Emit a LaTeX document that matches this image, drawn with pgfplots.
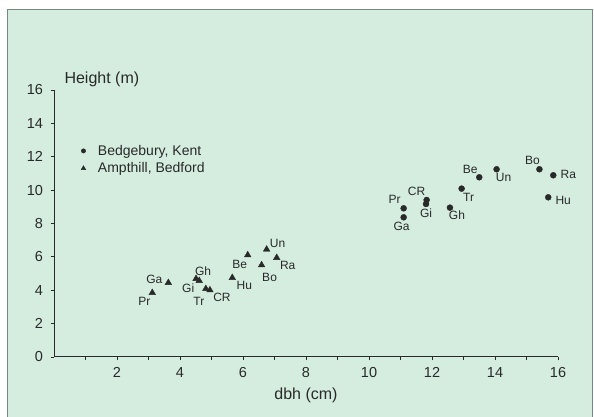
\documentclass[border=0pt]{standalone}
\usepackage{fontspec}
\setmainfont{Liberation Sans}
\usepackage{pgfplots}
\usepackage{pgfplotstable}
\pgfplotsset{compat=1.18}
\definecolor{mint}{RGB}{213,237,222}
\definecolor{framec}{RGB}{120,135,128}
\definecolor{ink}{RGB}{40,42,42}

\pgfplotstableread{
lab x y dx dy
Pr 11.10 8.91 -9 9
Ga 11.10 8.37 -2 -9
CR 11.83 9.41 -10 9
Gi 11.81 9.17 0 -9
Gh 12.57 8.95 7 -8
Tr 12.94 10.09 7 -9
Be 13.50 10.77 -9 8
Un 14.05 11.25 7 -8
Bo 15.41 11.25 -7 9
Ra 15.85 10.89 15 1
Hu 15.69 9.57 15 -3
}\bedgebury

\pgfplotstableread{
lab x y dx dy
Pr 3.12 3.85 -8 -9
Ga 3.63 4.45 -14 3
Gh 4.51 4.69 7 8
Gi 4.61 4.57 -11 -7.5
Tr 4.82 4.09 -7 -13
CR 4.95 4.01 12 -7
Hu 5.66 4.75 12 -8
Be 6.15 6.11 -8 -9
Un 6.75 6.45 11 6
Bo 6.59 5.51 8 -12
Ra 7.07 5.95 11 -8
}\ampthill

\begin{document}
\begin{tikzpicture}
\useasboundingbox (0pt,0pt) rectangle (594pt,417pt);
\fill[white] (0pt,0pt) rectangle (594pt,417pt);
\fill[mint] (7pt,0pt) rectangle (592pt,408pt);
\draw[framec, line width=0.8pt] (7pt,0pt) -- (7pt,408pt) -- (592pt,408pt) -- (592pt,0pt);
\begin{axis}[
  at={(54pt,60pt)}, anchor=origin,
  scale only axis, width=504pt, height=267pt,
  xmin=0, xmax=16, ymin=0, ymax=16,
  axis lines=left, axis line style={-, ink, line width=1pt},
  clip=false,
  xtick={2,4,...,16}, minor xtick={1,3,...,15},
  ytick={0,2,...,16},
  tick align=outside, major tick length=3.5pt, minor tick length=3pt,
  tick style={ink, line width=0.8pt},
  /pgf/number format/assume math mode=true,
  ticklabel style={font=\fontsize{14.5}{16}\selectfont, text=ink},
  yticklabel style={xshift=-4pt},
  xticklabel style={yshift=-3pt},
  legend style={at={(axis cs:0.85,12.83)}, anchor=north west, draw=none, fill=none,
    font=\fontsize{14}{16}\selectfont, text=ink, inner sep=0pt, row sep=1.5pt},
  legend cell align=left,
  nodes near coords={\pgfplotspointmeta},
  point meta=explicit symbolic,
  visualization depends on={\thisrow{dx} \as \dx},
  visualization depends on={\thisrow{dy} \as \dy},
  nodes near coords style={anchor=center, xshift=\dx pt, yshift=\dy pt,
    font=\fontsize{12}{13}\selectfont, text=ink, inner sep=0pt},
]
\addplot[only marks, mark=*, mark size=3pt, ink,
  legend image code/.code={\fill[ink] (0pt,0pt) circle (2.2pt);}]
  table[x=x, y=y, meta=lab] {\bedgebury};
\addlegendentry{\hspace{10pt}Bedgebury, Kent}
\addplot[only marks, mark=triangle*, mark size=3.8pt, ink,
  legend image code/.code={\fill[ink] (0pt,2.4pt) -- (-2.3pt,-1.6pt) -- (2.3pt,-1.6pt) -- cycle;}]
  table[x=x, y=y, meta=lab] {\ampthill};
\addlegendentry{\hspace{10pt}Ampthill, Bedford}
\end{axis}
\node[anchor=west, font=\fontsize{16}{18}\selectfont, text=ink] at (61pt,338pt) {Height (m)};
\node[font=\fontsize{16}{18}\selectfont, text=ink] at (306pt,22pt) {dbh (cm)};
\end{tikzpicture}
\end{document}
